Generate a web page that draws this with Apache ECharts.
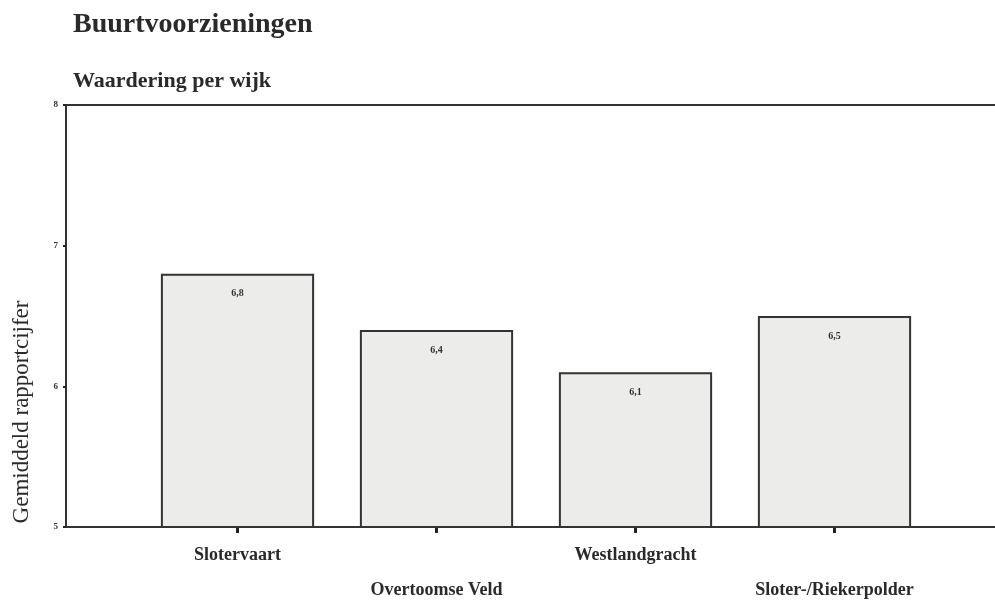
<!DOCTYPE html>
<html>
<head>
<meta charset="utf-8">
<script src="https://cdn.jsdelivr.net/npm/echarts@6/dist/echarts.min.js"></script>
<style>
  html, body { margin: 0; padding: 0; background: #fff; }
  #chart { width: 995px; height: 600px; }
</style>
</head>
<body>
<div id="chart"></div>
<script>
  // wijken en gemiddeld rapportcijfer
  const wijken = ['Slotervaart', 'Overtoomse Veld', 'Westlandgracht', 'Sloter-/Riekerpolder'];
  const cijfers = [6.8, 6.4, 6.1, 6.5];
  const yMin = 5;
  const yMax = 8;
  const yInterval = 1;

  const serif = '"Liberation Serif", "DejaVu Serif", serif';

  const chart = echarts.init(document.getElementById('chart'));

  const option = {
    backgroundColor: '#fff',
    animation: false,
    title: [
      {
        text: 'Buurtvoorzieningen',
        left: 68, top: 6,
        textStyle: { fontFamily: serif, fontSize: 28, fontWeight: 'bold', color: '#2a2a2a' }
      },
      {
        text: 'Waardering per wijk',
        left: 68, top: 65,
        textStyle: { fontFamily: serif, fontSize: 22, fontWeight: 'bold', color: '#2a2a2a' }
      }
    ],
    graphic: [
      {
        type: 'text',
        x: 22, y: 412,
        rotation: Math.PI / 2,
        style: {
          text: 'Gemiddeld rapportcijfer',
          fontFamily: serif, fontSize: 23, fill: '#2a2a2a',
          textAlign: 'center', textVerticalAlign: 'middle'
        }
      }
    ],
    grid: [
      // kader
      { left: 66, top: 105, right: -3, bottom: 73, outerBoundsMode: 'none', containLabel: false,
        show: true, borderColor: '#333', borderWidth: 2, backgroundColor: 'transparent' },
      // staven
      { left: 138, top: 105, right: 61, bottom: 73, outerBoundsMode: 'none', containLabel: false }
    ],
    xAxis: [
      { gridIndex: 0, type: 'value', show: false },
      {
        gridIndex: 1,
        type: 'category',
        data: wijken,
        axisLine: { show: false },
        axisTick: { show: true, alignWithLabel: true, length: 6, lineStyle: { color: '#222', width: 3 } },
        axisLabel: {
          margin: 11,
          fontFamily: serif, fontSize: 18, fontWeight: 'bold', color: '#2a2a2a',
          lineHeight: 35,
          interval: 0,
          formatter: function (v, i) { return i % 2 ? '\n' + v : v; }
        }
      }
    ],
    yAxis: [
      {
        gridIndex: 0,
        type: 'value',
        min: yMin, max: yMax, interval: yInterval,
        splitLine: { show: false },
        axisLine: { show: true, lineStyle: { color: '#333', width: 2 } },
        axisTick: { show: true, length: 3, lineStyle: { color: '#222', width: 2 } },
        axisLabel: { margin: 8, fontFamily: serif, fontSize: 9, fontWeight: 'bold', color: '#333' }
      },
      {
        gridIndex: 1,
        type: 'value',
        min: yMin, max: yMax, interval: yInterval,
        show: false
      }
    ],
    series: [
      {
        type: 'bar',
        xAxisIndex: 1,
        yAxisIndex: 1,
        data: cijfers,
        barCategoryGap: '23%',
        itemStyle: { color: '#ececea', borderColor: '#333', borderWidth: 2 },
        label: {
          show: true,
          position: 'insideTop',
          distance: 15,
          fontFamily: serif, fontSize: 10, fontWeight: 'bold', color: '#333',
          formatter: function (p) { return p.value.toFixed(1).replace('.', ','); }
        }
      }
    ]
  };

  chart.setOption(option);

  window.addEventListener('resize', function () {
    chart.resize();
  });
</script>
</body>
</html>
